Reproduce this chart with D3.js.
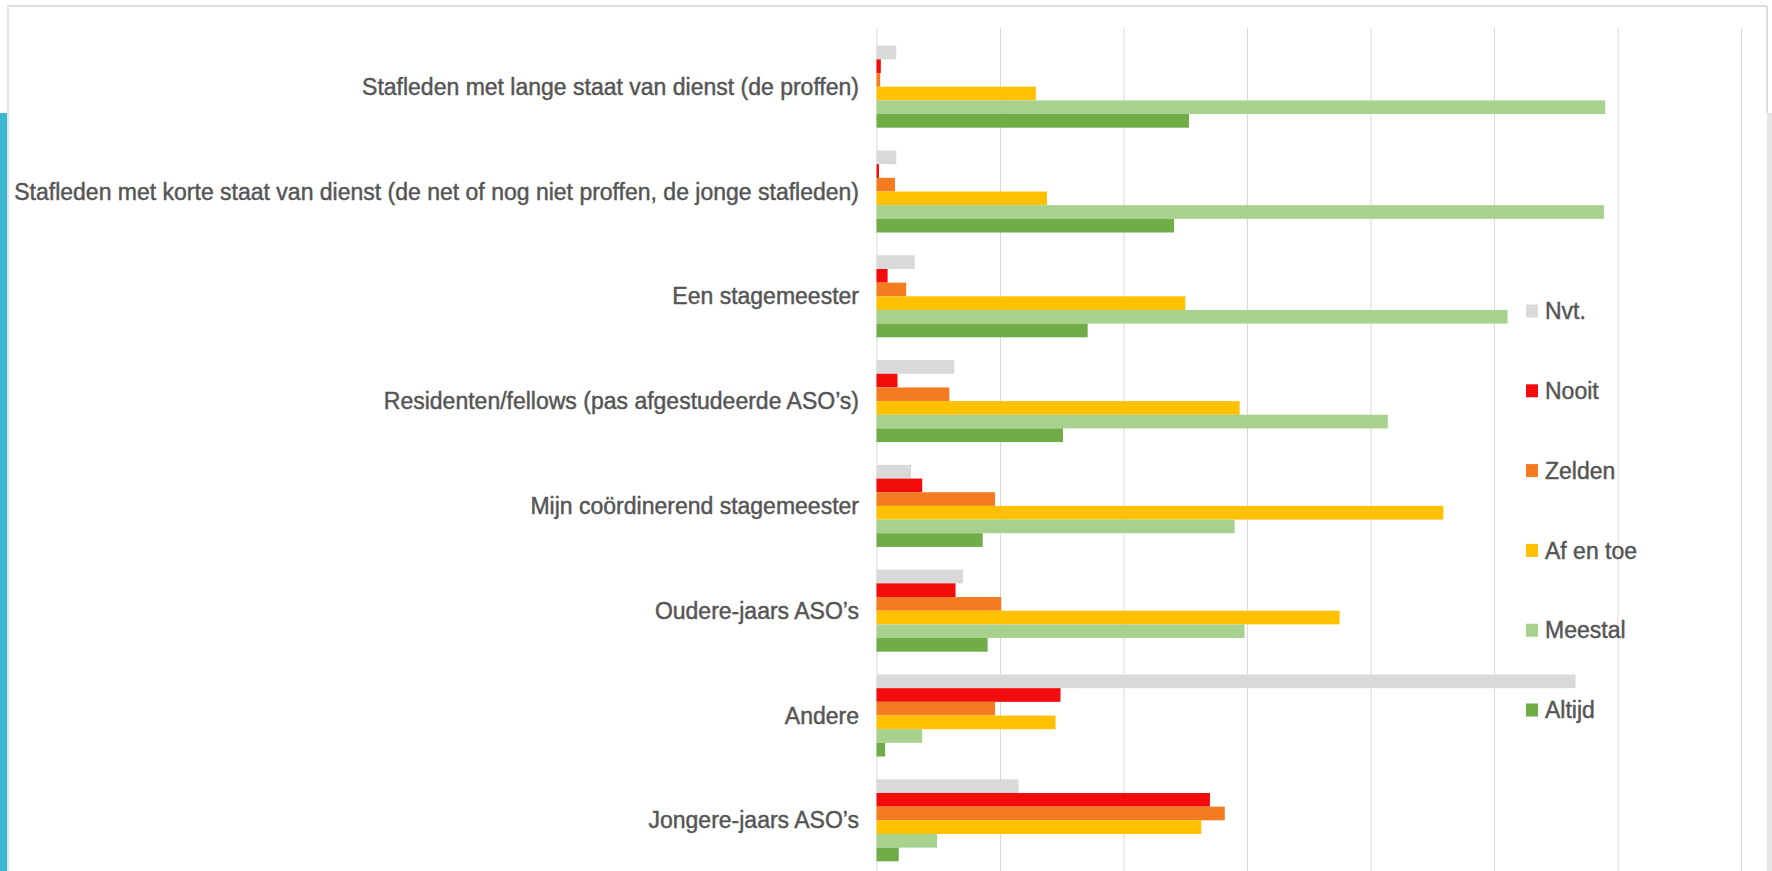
<!DOCTYPE html>
<html>
<head>
<meta charset="utf-8">
<script src="https://cdn.jsdelivr.net/npm/d3@7"></script>
<style>
  body { margin: 0; background: #fff; }
  text { font-family: "Liberation Sans", Arial, sans-serif; }
</style>
</head>
<body>
<div id="chart"></div>
<script>
// categories, top to bottom
const categories = [
  'Stafleden met lange staat van dienst (de proffen)',
  'Stafleden met korte staat van dienst (de net of nog niet proffen, de jonge stafleden)',
  'Een stagemeester',
  'Residenten/fellows (pas afgestudeerde ASO\u2019s)',
  'Mijn coördinerend stagemeester',
  'Oudere-jaars ASO\u2019s',
  'Andere',
  'Jongere-jaars ASO\u2019s'
]

const seriesNames = ['Nvt.', 'Nooit', 'Zelden', 'Af en toe', 'Meestal', 'Altijd']
const seriesColors = ['#d9d9d9', '#f40c0c', '#f47b20', '#ffc000', '#a9d18e', '#70ad47']

// values per series, same order as categories
const nvt     = [1.6, 1.6, 3.1, 6.3, 2.8, 7.0, 56.6, 11.5]
const nooit   = [0.35, 0.2, 0.9, 1.7, 3.7, 6.4, 14.9, 27.0]
const zelden  = [0.3, 1.5, 2.4, 5.9, 9.6, 10.1, 9.6, 28.2]
const afEnToe = [12.9, 13.8, 25.0, 29.4, 45.9, 37.5, 14.5, 26.3]
const meestal = [59.0, 58.9, 51.1, 41.4, 29.0, 29.8, 3.7, 4.9]
const altijd  = [25.3, 24.1, 17.1, 15.1, 8.6, 9.0, 0.7, 1.8]

const xTicks = [0, 10, 20, 30, 40, 50, 60, 70]

const seriesValues = [nvt, nooit, zelden, afEnToe, meestal, altijd]

let width = 1772
let height = 871

const svg = d3.select('#chart')
          .append('svg')
          .attr('width', width)
          .attr('height', height)

svg.append('rect').attr('width', width).attr('height', height).attr('fill', '#fff')

// slide frame
svg.append('line')
  .attr('x1', 7).attr('x2', 1767).attr('y1', 6).attr('y2', 6)
  .attr('stroke', '#dcdcdc').attr('stroke-width', 2)
svg.append('line')
  .attr('x1', 8).attr('x2', 8).attr('y1', 6).attr('y2', height)
  .attr('stroke', '#e2e2e2').attr('stroke-width', 2)
svg.append('line')
  .attr('x1', 1767).attr('x2', 1767).attr('y1', 6).attr('y2', 113)
  .attr('stroke', '#dcdcdc').attr('stroke-width', 2)
svg.append('rect')
  .attr('x', 1767).attr('y', 113).attr('width', 5).attr('height', height - 113)
  .attr('fill', '#e6e6e6')
svg.append('rect')
  .attr('x', 0).attr('y', 113).attr('width', 7).attr('height', height - 113)
  .attr('fill', '#3db8d3')

let xScale = d3.scaleLinear()
  .domain([0, 70])
  .range([876.5, 1741])

let yScale = d3.scaleBand()
  .domain(categories)
  .range([34.3, 872.7])
  .paddingInner(0.2176)
  .paddingOuter(0.1088)

let ySub = d3.scaleBand()
  .domain(seriesNames)
  .range([0, yScale.bandwidth()])

// vertical gridlines
svg.append('g')
  .attr('class', 'grid')
  .selectAll('line')
  .data(xTicks)
  .enter().append('line')
  .attr('x1', d => xScale(d) + 0.5)
  .attr('x2', d => xScale(d) + 0.5)
  .attr('y1', 28)
  .attr('y2', height)
  .attr('stroke', '#d9d9d9')
  .attr('stroke-width', 1)

// bars
let groups = svg.selectAll('.cat')
  .data(categories)
  .enter().append('g')
  .attr('class', 'cat')
  .attr('transform', d => `translate(0,${yScale(d)})`)

groups.each(function (cat, ci) {
  d3.select(this).selectAll('rect')
    .data(seriesNames)
    .enter().append('rect')
    .attr('x', xScale(0))
    .attr('y', s => ySub(s))
    .attr('width', (s, si) => xScale(seriesValues[si][ci]) - xScale(0))
    .attr('height', ySub.bandwidth())
    .attr('fill', (s, si) => seriesColors[si])
})

// category labels
svg.append('g')
  .selectAll('text')
  .data(categories)
  .enter().append('text')
  .attr('x', 859)
  .attr('y', d => yScale(d) + yScale.bandwidth() / 2)
  .attr('dy', '0.35em')
  .attr('text-anchor', 'end')
  .attr('font-size', 23)
  .attr('fill', '#555')
  .attr('stroke', '#555')
  .attr('stroke-width', 0.45)
  .text(d => d)

// legend
let legend = svg.append('g')
  .selectAll('g')
  .data(seriesNames)
  .enter().append('g')
  .attr('transform', (d, i) => `translate(1526,${311 + i * 79.8})`)

legend.append('rect')
  .attr('x', 0).attr('y', -6.5)
  .attr('width', 12).attr('height', 13)
  .attr('fill', (d, i) => seriesColors[i])

legend.append('text')
  .attr('x', 19)
  .attr('dy', '0.36em')
  .attr('font-size', 23)
  .attr('fill', '#555')
  .attr('stroke', '#555')
  .attr('stroke-width', 0.45)
  .text(d => d)
</script>
</body>
</html>
